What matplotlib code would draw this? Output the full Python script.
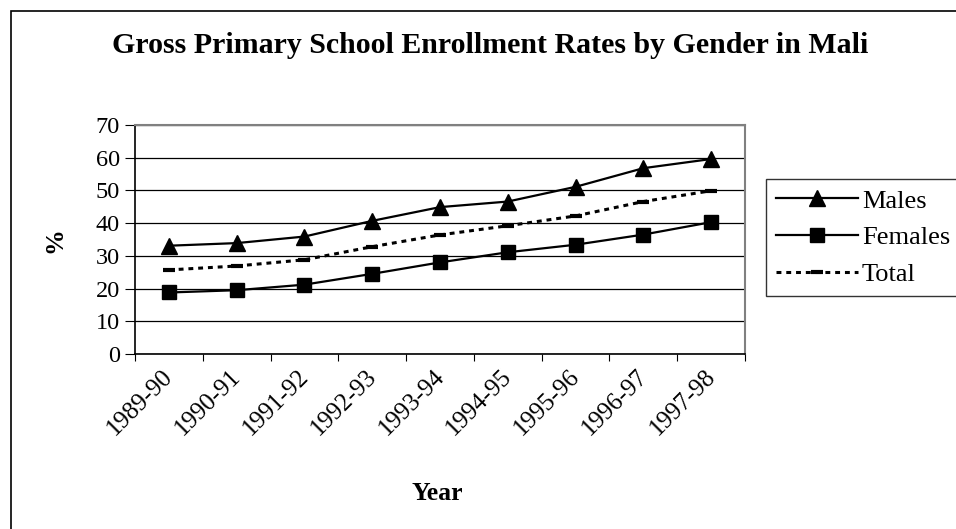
import matplotlib
matplotlib.use("Agg")
import matplotlib.pyplot as plt
from matplotlib.patches import Rectangle
from matplotlib.transforms import ScaledTranslation

plt.rcParams['font.family'] = ['Liberation Serif', 'DejaVu Serif']

years = ["1989-90", "1990-91", "1991-92", "1992-93", "1993-94",
         "1994-95", "1995-96", "1996-97", "1997-98"]
males = [33.1, 33.9, 35.9, 40.7, 44.9, 46.6, 51.1, 56.8, 59.6]
females = [18.8, 19.5, 21.2, 24.5, 28.0, 31.1, 33.4, 36.5, 40.3]
total = [25.7, 26.9, 28.8, 32.8, 36.4, 39.2, 42.2, 46.6, 49.9]
y_ticks = [0, 10, 20, 30, 40, 50, 60, 70]

W, H = 956, 529
fig = plt.figure(figsize=(W / 100, H / 100), dpi=100)

# outer chart frame (right/bottom edges fall outside the image)
fig.patches.append(Rectangle((11 / W, -0.1), 1.2, 1 - 11 / H + 0.1,
                             transform=fig.transFigure, fill=False,
                             edgecolor='black', linewidth=1.2))

ax = fig.add_axes([135 / W, 1 - 354 / H, 610 / W, 229 / H])
x = list(range(len(years)))

ax.plot(x, males, color='black', lw=1.6, marker='^', markersize=11, label='Males')
ax.plot(x, females, color='black', lw=1.6, marker='s', markersize=10, label='Females')
ax.plot(x, total, color='black', lw=2.2, dashes=(1.6, 1.6), marker='_',
        markersize=8, markeredgewidth=3, label='Total')

ax.set_xlim(-0.5, len(years) - 0.5)
ax.set_ylim(0, 70)
ax.set_yticks(y_ticks)
ax.yaxis.grid(True, color='black', lw=0.9)
ax.set_axisbelow(True)

for s in ['top', 'right']:
    ax.spines[s].set_color('#808080')
    ax.spines[s].set_linewidth(1.5)
for s in ['left', 'bottom']:
    ax.spines[s].set_color('black')
    ax.spines[s].set_linewidth(1.2)

# category boundaries get the tick marks, labels sit in the middle
ax.set_xticks([i - 0.5 for i in range(len(years) + 1)])
ax.set_xticklabels([])
ax.set_xticks(x, minor=True)
ax.set_xticklabels(years, minor=True, rotation=45, ha='right', va='top',
                   rotation_mode='anchor', fontsize=18)
ax.tick_params(axis='x', which='minor', length=0, pad=8)
ax.tick_params(axis='x', which='major', direction='out', length=5, color='black')
ax.tick_params(axis='y', direction='out', length=7, labelsize=17.5, pad=4)
shift = ScaledTranslation(-7 / 100, 0, fig.dpi_scale_trans)
for lab in ax.get_xticklabels(minor=True):
    lab.set_transform(lab.get_transform() + shift)

fig.text(490 / W, 1 - 46 / H, "Gross Primary School Enrollment Rates by Gender in Mali",
         ha='center', va='center', fontsize=21.5, fontweight='bold')
fig.text(437 / W, 1 - 493 / H, "Year", ha='center', va='center',
         fontsize=18.5, fontweight='bold')
fig.text(55 / W, 1 - 240 / H, "%", ha='center', va='center', rotation=90,
         fontsize=18.5, fontweight='bold')

leg = fig.legend(loc='upper left', bbox_to_anchor=(766 / W, 1 - 179 / H),
                 fontsize=19, frameon=True, fancybox=False, handlelength=3.1,
                 handletextpad=0.15, borderpad=0.38, labelspacing=0.5,
                 borderaxespad=0)
leg.get_frame().set_edgecolor('black')
leg.get_frame().set_linewidth(1.0)

fig.savefig("out.png", dpi=100)
